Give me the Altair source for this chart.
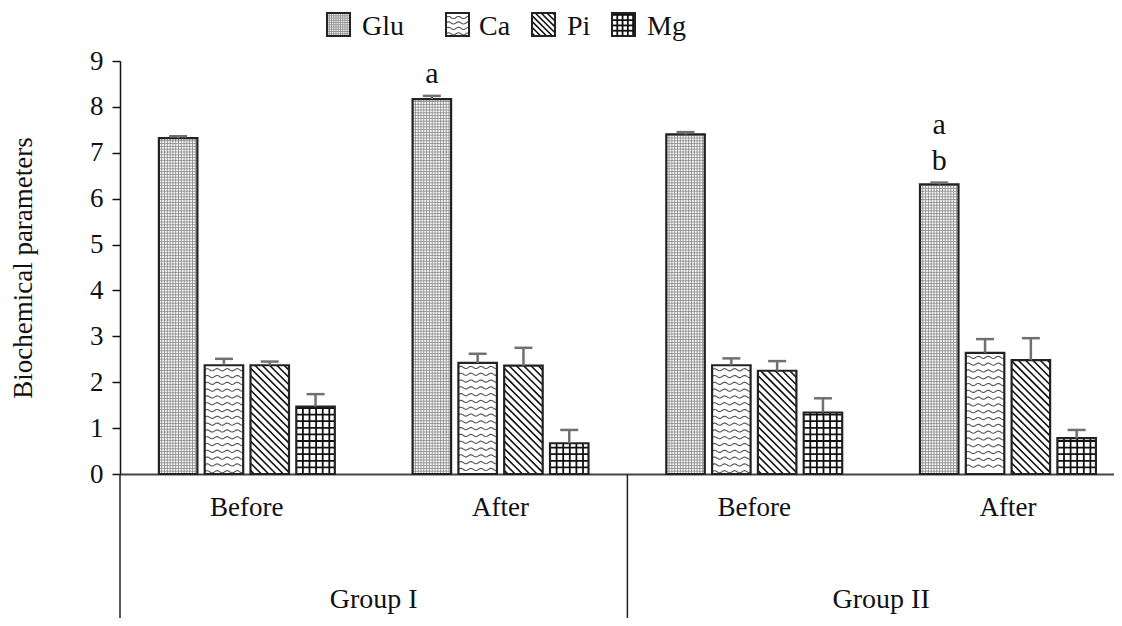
import altair as alt
import numpy as np
import pandas as pd

# ---------------- data ----------------
groups = ["Group I", "Group II"]
times = ["Before", "After", "Before", "After"]
params = ["Glu", "Ca", "Pi", "Mg"]

glu = [7.32, 8.17, 7.40, 6.31]
glu_err = [0.04, 0.07, 0.05, 0.04]
ca = [2.37, 2.42, 2.37, 2.64]
ca_err = [0.14, 0.20, 0.15, 0.30]
pi_ = [2.37, 2.36, 2.25, 2.48]
pi_err = [0.08, 0.39, 0.21, 0.48]
mg = [1.47, 0.67, 1.34, 0.78]
mg_err = [0.27, 0.29, 0.31, 0.18]

sig_slot = [1, 3, 3]
sig_text = ["a", "a", "b"]
sig_line = [0, 1, 0]

values = [glu, ca, pi_, mg]
errors = [glu_err, ca_err, pi_err, mg_err]

# ---------------- layout ----------------
W, H = 994, 413
PAD_L, PAD_T, PAD_B = 112, 53, 144
SLOT_PX = 253.7
XMAX = W / SLOT_PX
PXX = SLOT_PX
PXY = H / 9.0
STEP_PX, BAR_PX, CAP_PX = 45.8, 38.5, 18
FONT = "Liberation Serif"

# bars
rows = []
for i in range(len(times)):
    for j, p in enumerate(params):
        c = i + 0.5 + (j - 1.5) * STEP_PX / PXX
        v = values[j][i]
        e = errors[j][i]
        rows.append(dict(param=p, slot=i, xc=c, x0=c - BAR_PX / 2 / PXX, x1=c + BAR_PX / 2 / PXX,
                         y0=0.0, v=v, top=v + e, cl=c - CAP_PX / 2 / PXX, cr=c + CAP_PX / 2 / PXX))
bars = pd.DataFrame(rows)

# legend boxes (page pixel layout converted to data space)
leg_box_px = [327, 446, 532, 612]
leg_txt_px = [362, 479, 567, 647]
LEG_BOX = 23
leg_bottom = 9 + (61 - 36) / PXY
leg_rows = []
for k, p in enumerate(params):
    x0 = (leg_box_px[k] - 120) / PXX
    leg_rows.append(dict(param=p, x0=x0, x1=x0 + LEG_BOX / PXX, y0=leg_bottom, v=leg_bottom + LEG_BOX / PXY,
                         tx=(leg_txt_px[k] - 120) / PXX, ty=9 + (61 - 35) / PXY))
legend = pd.DataFrame(leg_rows)

# patterns
segs, waves = [], []
lid = [0]


def pattern(kind, x0, y0, wpx, hpx, scale=1.0):
    def seg(u1, v1, u2, v2, color, sw):
        segs.append(dict(x=x0 + u1 / PXX, y=y0 + v1 / PXY, x2=x0 + u2 / PXX, y2=y0 + v2 / PXY, c=color, sw=sw))
    if kind == "Glu":
        sp = 2.8 * scale
        u = sp
        while u < wpx - 0.5:
            seg(u, 0, u, hpx, "#8c8c8c", 0.9)
            u += sp
        v = sp
        while v < hpx - 0.5:
            seg(0, v, wpx, v, "#8c8c8c", 0.9)
            v += sp
    elif kind == "Mg":
        sp = 6.6 * scale
        u = sp
        while u < wpx - 1:
            seg(u, 0, u, hpx, "#111111", 1.8)
            u += sp
        v = sp
        while v < hpx - 1:
            seg(0, v, wpx, v, "#111111", 1.8)
            v += sp
    elif kind == "Pi":
        sp = 7.3 * scale
        cc = sp / 2
        while cc < wpx + hpx:
            us = max(0.0, cc - hpx)
            vs = cc - us
            ue = min(wpx, cc)
            ve = cc - ue
            seg(us, vs, ue, ve, "#111111", 1.6)
            cc += sp
    elif kind == "Ca":
        sp = 6.8 * scale
        period, amp = 10.0, 1.1
        v = hpx - 4.5
        while v > 2:
            us = np.linspace(0, wpx, int(wpx) + 1)
            for k, u in enumerate(us):
                waves.append(dict(x=x0 + u / PXX, y=y0 + (v + amp * np.sin(2 * np.pi * u / period)) / PXY,
                                  lid=lid[0], k=k))
            lid[0] += 1
            v -= sp


for _, r in bars.iterrows():
    pattern(r.param, r.x0, 0.0, BAR_PX, r.v * PXY)
for _, r in legend.iterrows():
    pattern(r.param, r.x0, r.y0, LEG_BOX, LEG_BOX, 0.8)

seg_df = pd.DataFrame(segs)
wave_df = pd.DataFrame(waves)

sig_df = pd.DataFrame(dict(slot=sig_slot, t=sig_text, line=sig_line))
glu_bars = bars[bars.param == "Glu"].set_index("slot")
sig_df["xc"] = [glu_bars.loc[s, "xc"] for s in sig_slot]
sig_df["y"] = [glu_bars.loc[s, "top"] + (13 + 36 * l) / PXY for s, l in zip(sig_slot, sig_line)]

time_df = pd.DataFrame(dict(t=times, xc=[i + 0.5 for i in range(len(times))]))
group_df = pd.DataFrame(dict(g=groups, xc=[2 * g + 1.0 for g in range(len(groups))],
                             xb=[2 * g for g in range(len(groups))]))

# ---------------- encodings ----------------
xs = alt.Scale(domain=[0, XMAX], nice=False, zero=False)
ys = alt.Scale(domain=[0, 9], nice=False, zero=False)
xaxis = alt.Axis(title=None, labels=False, ticks=False, grid=False, domainColor="#444444", domainWidth=2)
yaxis = alt.Axis(title="Biochemical parameters", values=list(range(10)), grid=False, tickSize=8,
                 tickColor="#111111", tickWidth=1.5, domainColor="#111111", domainWidth=1.5,
                 labelFont=FONT, labelFontSize=27, labelColor="#111111", labelPadding=9,
                 titleFont=FONT, titleFontSize=27, titleFontWeight="normal", titleColor="#111111",
                 titleX=-97, titleY=H / 2, titleAngle=-90, titleAlign="center", titleBaseline="middle")


def X(f):
    return alt.X(f, type="quantitative", scale=xs, axis=xaxis)


def Y(f):
    return alt.Y(f, type="quantitative", scale=ys, axis=yaxis)


fills = alt.Chart(bars).mark_rect(color="white").encode(x=X("x0"), x2="x1", y=Y("y0"), y2="v")
leg_fill = alt.Chart(legend).mark_rect(color="white").encode(x=X("x0"), x2="x1", y=Y("y0"), y2="v")

seg_layer = alt.Chart(seg_df).mark_rule(strokeCap="butt").encode(
    x=X("x"), y=Y("y"), x2="x2", y2="y2",
    color=alt.Color("c:N", scale=None), strokeWidth=alt.StrokeWidth("sw:Q", scale=None))
wave_layer = alt.Chart(wave_df).mark_line(color="#555555", strokeWidth=1.1).encode(
    x=X("x"), y=Y("y"), detail="lid:N", order="k:Q")

outline = alt.Chart(bars).mark_rect(filled=False, color="#222222", strokeWidth=2.2).encode(
    x=X("x0"), x2="x1", y=Y("y0"), y2="v")
leg_outline = alt.Chart(legend).mark_rect(filled=False, color="#222222", strokeWidth=2).encode(
    x=X("x0"), x2="x1", y=Y("y0"), y2="v")

stem = alt.Chart(bars).mark_rule(color="#707070", strokeWidth=2.5).encode(x=X("xc"), y=Y("v"), y2="top")
cap = alt.Chart(bars).mark_rule(color="#707070", strokeWidth=2.5).encode(x=X("cl"), x2="cr", y=Y("top"))

sig = alt.Chart(sig_df).mark_text(font=FONT, fontSize=30, color="#111111", baseline="alphabetic").encode(
    x=X("xc"), y=Y("y"), text="t:N")

leg_text = alt.Chart(legend).mark_text(font=FONT, fontSize=28, color="#111111", align="left",
                                       baseline="alphabetic").encode(x=X("tx"), y=Y("ty"), text="param:N")

time_text = alt.Chart(time_df).mark_text(font=FONT, fontSize=27, color="#111111", baseline="alphabetic").encode(
    x=X("xc"), y=alt.value(455), text="t:N")
group_text = alt.Chart(group_df).mark_text(font=FONT, fontSize=28, color="#111111", baseline="alphabetic").encode(
    x=X("xc"), y=alt.value(547), text="g:N")
sep = alt.Chart(group_df).mark_rule(color="#222222", strokeWidth=1.5).encode(
    x=X("xb"), y=alt.value(H), y2=alt.value(H + 160))

chart = alt.layer(
    fills, leg_fill, seg_layer, wave_layer, outline, leg_outline, stem, cap, sig,
    leg_text, time_text, group_text, sep
).properties(
    width=W, height=H,
    autosize=alt.AutoSizeParams(type="none"),
    padding={"left": PAD_L, "top": PAD_T, "right": 0, "bottom": PAD_B},
    background="white",
).configure_view(stroke=None)

chart.save("out.html", embed_options={"renderer": "svg", "actions": False})
